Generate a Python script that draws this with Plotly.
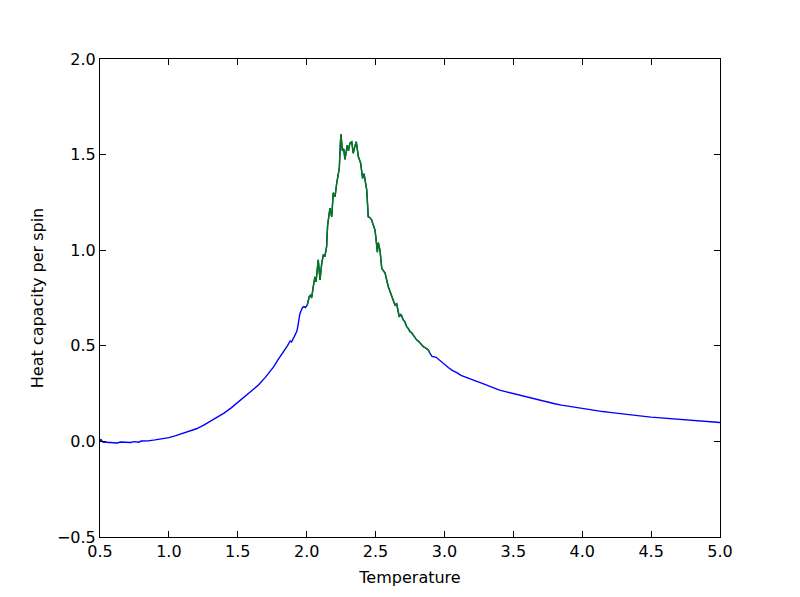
import plotly.graph_objects as go

# Low-temperature part (blue run only)
temps_low = [0.50, 0.505, 0.52, 0.55, 0.58, 0.60, 0.625, 0.65, 0.68, 0.70, 0.72, 0.75, 0.78, 0.80,
             0.85, 0.90, 0.95, 1.00, 1.05, 1.10, 1.15, 1.20, 1.25, 1.30, 1.35, 1.40, 1.45, 1.50,
             1.55, 1.60, 1.65, 1.70, 1.73, 1.76, 1.79, 1.82, 1.84, 1.86, 1.88, 1.89, 1.91, 1.93,
             1.94, 1.95, 1.96, 1.97, 1.98, 1.99]
heat_low = [0.0, 0.012, -0.003, -0.004, -0.005, -0.004, -0.008, -0.003, -0.004, -0.003, -0.006, -0.001, -0.004, 0.002,
            0.003, 0.008, 0.013, 0.020, 0.030, 0.042, 0.053, 0.066, 0.084, 0.105, 0.125, 0.148, 0.174, 0.205,
            0.235, 0.263, 0.295, 0.335, 0.36, 0.39, 0.425, 0.455, 0.478, 0.50, 0.525, 0.52, 0.548, 0.578,
            0.62, 0.665, 0.685, 0.70, 0.705, 0.70]

# Critical region (fine run, green)
temps_crit = [2.004, 2.019, 2.029, 2.036, 2.048, 2.060, 2.068, 2.084, 2.097, 2.109, 2.121, 2.133, 2.145,
              2.152, 2.169, 2.182, 2.193, 2.206, 2.218, 2.230, 2.237, 2.244, 2.249, 2.259, 2.269, 2.278,
              2.295, 2.303, 2.314, 2.327, 2.338, 2.349, 2.360, 2.375, 2.392, 2.406, 2.416, 2.436, 2.447,
              2.460, 2.472, 2.484, 2.496, 2.503, 2.513, 2.520, 2.532, 2.545, 2.569, 2.592, 2.617, 2.641,
              2.653, 2.672, 2.685, 2.701, 2.713, 2.726, 2.738, 2.750, 2.762, 2.774, 2.786, 2.799, 2.811,
              2.823, 2.835, 2.847, 2.860, 2.870, 2.883, 2.895]
heat_crit = [0.713, 0.757, 0.766, 0.75, 0.81, 0.86, 0.835, 0.95, 0.844, 0.93, 0.975, 0.97, 1.02,
             1.13, 1.22, 1.175, 1.30, 1.28, 1.35, 1.393, 1.43, 1.55, 1.606, 1.52, 1.53, 1.475,
             1.55, 1.52, 1.56, 1.567, 1.507, 1.54, 1.567, 1.49, 1.455, 1.376, 1.40, 1.315, 1.175,
             1.17, 1.158, 1.13, 1.105, 1.062, 0.99, 1.04, 1.0, 0.905, 0.88, 0.81, 0.757, 0.713,
             0.72, 0.652, 0.665, 0.635, 0.625, 0.60, 0.59, 0.574, 0.568, 0.557, 0.54, 0.53, 0.525,
             0.513, 0.505, 0.495, 0.49, 0.485, 0.478, 0.46]

# High-temperature part (blue run only)
temps_high = [2.91, 2.94, 2.97, 3.00, 3.03, 3.06, 3.09, 3.12, 3.15, 3.18, 3.22, 3.26, 3.30, 3.35, 3.40,
              3.45, 3.50, 3.55, 3.60, 3.65, 3.70, 3.75, 3.80, 3.85, 3.90, 3.95, 4.00, 4.05, 4.10, 4.15,
              4.20, 4.25, 4.30, 4.35, 4.40, 4.45, 4.50, 4.55, 4.60, 4.65, 4.70, 4.75, 4.80, 4.85, 4.90,
              4.95, 5.00]
heat_high = [0.445, 0.44, 0.42, 0.405, 0.385, 0.37, 0.36, 0.345, 0.338, 0.33, 0.318, 0.307, 0.296, 0.283, 0.268,
             0.259, 0.25, 0.24, 0.23, 0.221, 0.213, 0.205, 0.197, 0.19, 0.184, 0.178, 0.172, 0.167, 0.161, 0.156,
             0.152, 0.147, 0.143, 0.139, 0.135, 0.131, 0.127, 0.124, 0.120, 0.117, 0.114, 0.111, 0.109, 0.106, 0.104,
             0.101, 0.099]

x_ticks = [0.5, 1.0, 1.5, 2.0, 2.5, 3.0, 3.5, 4.0, 4.5, 5.0]
y_ticks = [-0.5, 0.0, 0.5, 1.0, 1.5, 2.0]

blue_t = temps_low + temps_crit + temps_high
blue_c = heat_low + heat_crit + heat_high

fig = go.Figure()
fig.add_trace(go.Scatter(x=blue_t, y=blue_c, mode="lines",
                         line=dict(color="#0000ff", width=1.4), showlegend=False))
fig.add_trace(go.Scatter(x=temps_crit, y=heat_crit, mode="lines",
                         line=dict(color="#008000", width=1.4), showlegend=False))

axis_common = dict(showgrid=False, zeroline=False, showline=True, linecolor="black", linewidth=1,
                   mirror="ticks", ticks="inside", ticklen=6, tickcolor="black", tickwidth=1,
                   tickfont=dict(family="DejaVu Sans", size=16, color="black"))

fig.update_layout(
    width=800, height=597,
    margin=dict(l=92, r=88, t=51, b=68),
    paper_bgcolor="white", plot_bgcolor="white",
    font=dict(family="DejaVu Sans", size=16, color="black"),
    xaxis=dict(range=[0.5, 5.0], tickvals=x_ticks, ticktext=[f"{v:.1f}" for v in x_ticks],
               title=dict(text="Temperature", font=dict(size=16), standoff=11), **axis_common),
    yaxis=dict(range=[-0.5, 2.0], tickvals=y_ticks,
               ticktext=[("\u2212" if v < 0 else "") + f"{abs(v):.1f}" for v in y_ticks],
               title=dict(text="Heat capacity per spin", font=dict(size=16), standoff=9), **axis_common),
)

fig.write_html("out.html")
